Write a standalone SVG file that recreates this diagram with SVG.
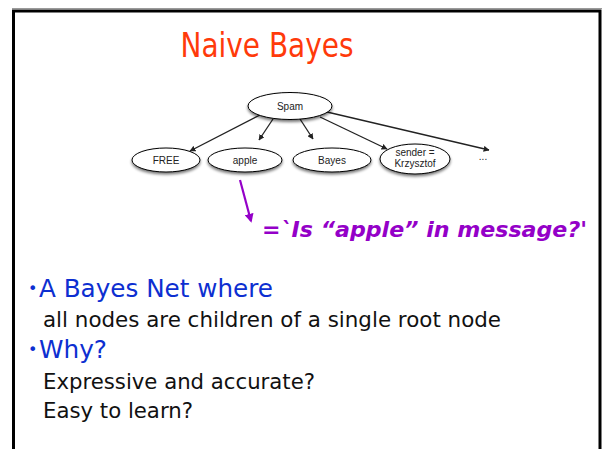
<svg xmlns="http://www.w3.org/2000/svg" width="602" height="449" viewBox="0 0 602 449">
  <style>
    .node ellipse { fill: #ffffff; stroke: #000000; stroke-width: 1; filter: url(#shadow); }
    .node text { font-family: "Liberation Sans", Arial, sans-serif; font-size: 10px; fill: #222222; text-anchor: middle; }
    .edge { stroke: #222222; stroke-width: 1.3; fill: none; marker-end: url(#head); }
    .hand { font-family: "Comic Sans MS", "DejaVu Sans", sans-serif; }
    .bullet { fill: #0d2fd1; font-size: 25px; }
    .body { fill: #111111; font-size: 21px; }
  </style>
  <defs>
    <filter id="shadow" x="-30%" y="-40%" width="160%" height="200%">
      <feGaussianBlur in="SourceAlpha" stdDeviation="1.6"/>
      <feOffset dx="0" dy="2" result="b"/>
      <feComponentTransfer><feFuncA type="linear" slope="0.55"/></feComponentTransfer>
      <feMerge><feMergeNode/><feMergeNode in="SourceGraphic"/></feMerge>
    </filter>
    <marker id="head" viewBox="0 0 10 10" refX="9" refY="5" markerWidth="6" markerHeight="6" orient="auto" markerUnits="userSpaceOnUse">
      <path d="M0,0 L10,5 L0,10 z" fill="#222222"/>
    </marker>
    <marker id="phead" viewBox="0 0 10 10" refX="8" refY="5" markerWidth="9" markerHeight="9" orient="auto" markerUnits="userSpaceOnUse">
      <path d="M0,0 L10,5 L0,10 z" fill="#9400c8"/>
    </marker>
  </defs>

  <!-- slide frame -->
  <rect x="0" y="0" width="602" height="449" fill="#ffffff"/>
  <line x1="12" y1="8.5" x2="602" y2="8.5" stroke="#9a9a9a" stroke-width="1"/>
  <path d="M13.5,449 V11 H600 V449" fill="none" stroke="#000000" stroke-width="3"/>

  <!-- title -->
  <text class="hand" x="267" y="57" font-size="34" fill="#ff3a0a" text-anchor="middle" textLength="173" lengthAdjust="spacingAndGlyphs">Naive Bayes</text>

  <!-- connectors -->
  <g id="connectors">
    <line class="edge" x1="260" y1="115" x2="190" y2="151"/>
    <line class="edge" x1="273" y1="119" x2="259" y2="140"/>
    <line class="edge" x1="300" y1="119" x2="313" y2="139"/>
    <line class="edge" x1="320" y1="117" x2="387" y2="149"/>
    <line class="edge" x1="327" y1="112" x2="489" y2="150"/>
  </g>

  <!-- nodes -->
  <g id="node-spam" class="node">
    <ellipse cx="290" cy="106" rx="42" ry="13.5"/>
    <text x="290" y="109.5">Spam</text>
  </g>
  <g id="node-free" class="node">
    <ellipse cx="166" cy="160" rx="34" ry="12"/>
    <text x="166" y="163.5">FREE</text>
  </g>
  <g id="node-apple" class="node">
    <ellipse cx="245" cy="160" rx="37" ry="12"/>
    <text x="245" y="163.5">apple</text>
  </g>
  <g id="node-bayes" class="node">
    <ellipse cx="332" cy="160" rx="39" ry="12"/>
    <text x="332" y="163.5">Bayes</text>
  </g>
  <g id="node-sender" class="node">
    <ellipse cx="415" cy="159" rx="35" ry="15"/>
    <text x="415" y="156">sender =</text>
    <text x="415" y="166.5">Krzysztof</text>
  </g>
  <g id="node-more" class="node">
    <text x="483" y="160">...</text>
  </g>

  <!-- annotation -->
  <line x1="240" y1="180" x2="251" y2="221" stroke="#9400c8" stroke-width="2.2" marker-end="url(#phead)"/>
  <text class="hand" x="262" y="237" font-size="21" font-weight="bold" font-style="italic" fill="#9400c8" textLength="325" lengthAdjust="spacingAndGlyphs">=`Is “apple” in message?'</text>

  <!-- bullets -->
  <text class="hand bullet" x="28" y="297"><tspan font-size="16" dy="-3">•</tspan><tspan dy="3" x="39" textLength="234" lengthAdjust="spacingAndGlyphs">A Bayes Net where</tspan></text>
  <text class="hand body" x="43" y="327" textLength="458" lengthAdjust="spacingAndGlyphs">all nodes are children of a single root node</text>
  <text class="hand bullet" x="28" y="358"><tspan font-size="16" dy="-3">•</tspan><tspan dy="3" x="39" textLength="68" lengthAdjust="spacingAndGlyphs">Why?</tspan></text>
  <text class="hand body" x="43" y="389" textLength="272" lengthAdjust="spacingAndGlyphs">Expressive and accurate?</text>
  <text class="hand body" x="43" y="418" textLength="150" lengthAdjust="spacingAndGlyphs">Easy to learn?</text>
</svg>
